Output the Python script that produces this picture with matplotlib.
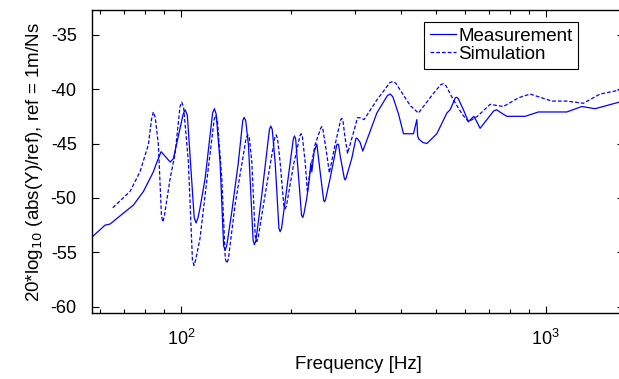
#!/usr/bin/env python3
# -*- coding: utf-8 -*-
from matplotlib import rcParams, pyplot as plt
from matplotlib.ticker import LogLocator, NullFormatter

rcParams['font.family'] = ['Liberation Sans', 'DejaVu Sans']
rcParams['font.size'] = 13

meas_freq = [57.1, 62.0, 64.0, 69.6, 74.2, 79.0, 84.1, 86.0, 88.3, 93.5, 95.4,
             101.5, 102.8, 104.2, 108.8, 110.1, 111.5, 112.9, 116.6, 122.2,
             123.6, 125.0, 128.1, 131.0, 132.2, 133.6, 137.9, 143.8, 147.8,
             149.1, 150.6, 153.2, 157.8, 159.1, 160.6, 166.7, 174.9, 176.4,
             178.0, 181.3, 185.7, 187.1, 188.8, 195.2, 203.3, 204.8, 206.4,
             210.0, 214.2, 215.9, 217.6, 221.4, 225.1, 227.1, 228.5, 231.9,
             235.9, 240.8, 246.2, 247.5, 249.0, 256.5, 267.6, 269.0, 270.5,
             273.2, 280.5, 281.9, 283.5, 294.1, 301.7, 303.5, 305.5, 309.9,
             315.2, 344.4, 368.0, 374.5, 381.0, 395.0, 407.4, 433.9, 443.3,
             445.5, 449.0, 460.3, 472.1, 502.8, 535.6, 546.8, 565.0, 570.5,
             576.0, 594.7, 613.8, 635.0, 649.6, 660.7, 720.0, 734.1, 748.0,
             782.0, 877.7, 954.4, 1141.7, 1254.9, 1365.0, 1587.5, 1641.0]
meas_db = [-53.6, -52.5, -52.4, -51.4, -50.65, -49.4, -47.6, -46.7, -45.75, -46.7,
           -46.4, -42.3, -41.9, -42.4, -51.8, -52.3, -51.8, -50.9, -48.2, -42.2,
           -41.8, -42.3, -46.7, -54.4, -54.8, -54.4, -51.3, -46.7, -42.9,
           -42.6, -42.9, -45.1, -53.9, -54.3, -53.9, -49.7, -43.7, -43.4,
           -43.7, -46.7, -52.8, -53.1, -52.8, -49.1, -44.6, -44.3, -44.6,
           -47.9, -51.6, -51.8, -51.4, -50.0, -48.2, -46.8, -47.6, -45.75,
           -45.05, -47.6, -50.2, -50.35, -50.2, -48.2, -45.1, -45.05, -45.1,
           -46.1, -48.2, -48.35, -48.2, -46.35, -44.55, -44.5, -44.6, -44.9,
           -45.7, -42.2, -40.6, -40.45, -40.7, -42.3, -44.1, -44.1, -42.8,
           -44.3, -44.6, -44.9, -45.0, -44.1, -42.2, -41.9, -40.8, -40.75,
           -40.9, -41.9, -42.99, -42.5, -43.1, -43.6, -42.0, -41.9, -42.1,
           -42.5, -42.5, -42.1, -42.1, -41.6, -41.8, -41.2, -41.1]

# simulated mobility
sim_freq = [65.1, 72.6, 77.3, 81.5, 83.1, 84.1, 85.1, 86.8, 88.5, 89.3, 90.2,
            93.5, 96.5, 99.5, 100.6, 101.8, 104.9, 107.6, 108.7, 109.8, 112.9,
            116.6, 123.4, 124.7, 126.0, 129.5, 132.4, 133.7, 135.0, 140.8,
            151.0, 152.6, 154.1, 156.5, 160.0, 161.5, 163.0, 170.2, 180.8,
            182.4, 184.0, 187.1, 191.5, 193.1, 194.8, 203.5, 212.0, 213.6,
            215.2, 219.1, 222.3, 225.1, 233.3, 241.7, 243.4, 245.1, 251.2,
            255.3, 264.7, 274.3, 276.2, 278.1, 281.9, 286.4, 300.3, 304.6,
            309.9, 317.8, 344.4, 374.0, 381.0, 388.0, 424.9, 447.7, 492.1,
            515.0, 524.2, 533.0, 558.3, 590.0, 613.8, 649.6, 703.7, 765.3,
            841.4, 905.7, 1038.5, 1141.7, 1267.6, 1408.7, 1587.5, 1641.0]
sim_db = [-50.9, -49.4, -47.6, -45.1, -42.8, -42.1, -42.6, -45.1, -51.6, -52.2,
          -51.6, -48.2, -45.9, -41.6, -41.2, -41.7, -46.7, -55.7, -56.2, -55.7,
          -53.7, -49.7, -42.8, -42.4, -42.9, -48.2, -55.6, -56.0, -55.6,
          -50.65, -44.5, -44.2, -44.5, -46.7, -53.6, -54.0, -53.6, -49.7,
          -44.5, -44.2, -44.5, -46.7, -50.7, -51.0, -50.7, -47.0, -44.3,
          -44.1, -44.3, -46.7, -49.5, -47.9, -45.1, -43.6, -43.45, -43.7,
          -46.0, -47.7, -45.1, -42.8, -42.7, -42.9, -44.5, -45.9, -43.45,
          -42.63, -42.63, -42.8, -41.0, -39.4, -39.3, -39.45, -41.5, -42.2,
          -40.4, -39.6, -39.5, -39.7, -41.0, -42.3, -43.0, -42.5, -41.4,
          -41.6, -40.8, -40.45, -41.1, -41.1, -41.3, -40.45, -40.1, -40.1]

y_ticks = [-60, -55, -50, -45, -40, -35]


def plot():
    fig = plt.figure(figsize=(6.19, 3.79), dpi=100)
    ax = fig.add_axes([0.1486, 0.1734, 0.86, 0.8002])

    ax.semilogx(meas_freq, meas_db, color="#0000ff", lw=0.9, label="Measurement")
    ax.semilogx(sim_freq, sim_db, color="#0000ff", lw=0.9, ls=(0, (3, 1.6)),
                label="Simulation")

    ax.set_xlim(57.1, 1641)
    ax.set_ylim(-60.6, -32.73)
    ax.set_yticks(y_ticks)
    ax.set_yticklabels([str(v) for v in y_ticks])
    ax.xaxis.set_minor_locator(LogLocator(base=10, subs=range(2, 10)))
    ax.xaxis.set_minor_formatter(NullFormatter())
    ax.tick_params(which="both", direction="in", top=True, right=True)
    ax.tick_params(which="major", length=5, width=0.8)
    ax.tick_params(which="minor", length=3, width=0.8)
    ax.tick_params(axis="y", pad=11)
    ax.tick_params(axis="x", pad=11)
    for sp in ax.spines.values():
        sp.set_linewidth(1.0)

    ax.set_xlabel("Frequency [Hz]", fontsize=13.5, labelpad=5)
    ax.set_ylabel("20*log$_{10}$ (abs(Y)/ref), ref = 1m/Ns", fontsize=13.5,
                  labelpad=4)

    leg = ax.legend(loc="upper right", bbox_to_anchor=(0.913, 0.96),
                    fancybox=False, framealpha=1, edgecolor="black",
                    handlelength=1.4, handletextpad=0.1, borderpad=0.3,
                    labelspacing=0.05, fontsize=13.5, borderaxespad=0)
    leg.get_frame().set_linewidth(0.8)

    fig.savefig("out.png", dpi=100)


if __name__ == '__main__':
    plot()
